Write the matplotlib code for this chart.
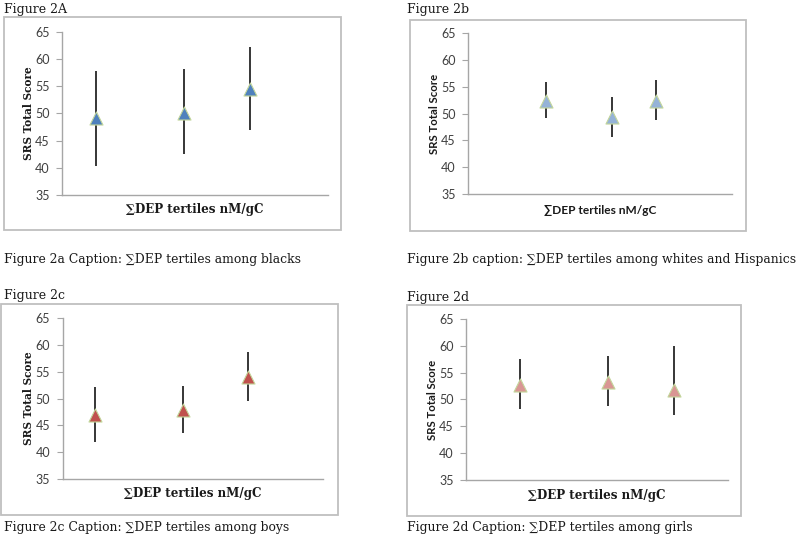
import matplotlib
matplotlib.use("Agg")
import matplotlib.pyplot as plt
from matplotlib.patches import Rectangle

# ---- data ----
panel_titles = ["Figure 2A", "Figure 2b", "Figure 2c", "Figure 2d"]
captions = [
    "Figure 2a Caption: \u2211DEP tertiles among blacks",
    "Figure 2b caption: \u2211DEP tertiles among whites and Hispanics",
    "Figure 2c Caption: \u2211DEP tertiles among boys",
    "Figure 2d Caption: \u2211DEP tertiles among girls",
]
x_label = "\u2211DEP tertiles nM/gC"
y_label = "SRS Total Score"
y_ticks = [35, 40, 45, 50, 55, 60, 65]

# x positions of the three tertiles (scatter x values, axis range 0-10)
x_a = [1.26, 4.57, 7.05]
x_b = [2.94, 5.44, 7.11]
x_c = [1.24, 4.61, 7.13]
x_d = [2.07, 5.42, 7.93]

mean_a = [49.1, 50.0, 54.5]
low_a = [40.3, 42.5, 46.9]
high_a = [57.8, 58.1, 62.2]

mean_b = [52.4, 49.3, 52.4]
low_b = [49.1, 45.6, 48.9]
high_b = [56.0, 53.2, 56.3]

mean_c = [47.0, 47.8, 54.1]
low_c = [42.0, 43.5, 49.6]
high_c = [52.1, 52.4, 58.8]

mean_d = [52.7, 53.3, 51.8]
low_d = [48.2, 48.8, 47.2]
high_d = [57.5, 58.1, 60.0]

W, H = 800, 539
fig = plt.figure(figsize=(W / 100, H / 100), dpi=100)
fig.patch.set_facecolor("white")


def fx(px):
    return px / W


def fy(py):
    return 1 - py / H


serif = ["DejaVu Serif", "DejaVu Sans"]
sans = ["Lato", "DejaVu Sans"]

panels = [
    dict(x=x_a, m=mean_a, lo=low_a, hi=high_a, color="#4F81BD",
         ax=(62.3, 31.7, 328, 195), box=(4, 17.5, 341, 230),
         title_xy=(4, 9), cap_xy=(4, 260), yl_x=29, xl_y=210,
         yfont=serif, xfont=serif),
    dict(x=x_b, m=mean_b, lo=low_b, hi=high_b, color="#95B3D7",
         ax=(468, 33.3, 732, 194), box=(410, 19.5, 746, 231),
         title_xy=(407, 10), cap_xy=(407, 260), yl_x=435, xl_y=210,
         yfont=sans, xfont=sans),
    dict(x=x_c, m=mean_c, lo=low_c, hi=high_c, color="#C0504D",
         ax=(62.7, 318.3, 323, 479), box=(1, 303.5, 338, 515),
         title_xy=(4, 296), cap_xy=(4, 527), yl_x=28, xl_y=493,
         yfont=serif, xfont=serif),
    dict(x=x_d, m=mean_d, lo=low_d, hi=high_d, color="#D99694",
         ax=(466, 319, 727.7, 480), box=(407, 305, 741, 516),
         title_xy=(407, 297), cap_xy=(407, 528), yl_x=432, xl_y=495,
         yfont=sans, xfont=serif),
]

for i, p in enumerate(panels):
    # outer frame
    bx0, by0, bx1, by1 = p["box"]
    fig.patches.append(Rectangle((fx(bx0), fy(by1)), fx(bx1) - fx(bx0), fy(by0) - fy(by1),
                                 transform=fig.transFigure, fill=False,
                                 edgecolor="#BFBFBF", linewidth=1.3))
    l, t, r, b = p["ax"]
    ax = fig.add_axes([fx(l), fy(b), fx(r) - fx(l), fy(t) - fy(b)])
    ax.set_facecolor("none")
    ax.set_xlim(0, 10)
    ax.set_ylim(35, 65)
    ax.set_yticks(y_ticks)
    ax.set_xticks([])
    for s in ["top", "right"]:
        ax.spines[s].set_visible(False)
    for s in ["left", "bottom"]:
        ax.spines[s].set_color("#A6A6A6")
        ax.spines[s].set_linewidth(1.0)
    ax.tick_params(axis="y", length=4, width=0.8, color="#A6A6A6",
                   labelsize=9, labelcolor="#404040", pad=5)
    for lab in ax.get_yticklabels():
        lab.set_family(sans)
    yerr = [[m - lo for m, lo in zip(p["m"], p["lo"])],
            [hi - m for m, hi in zip(p["m"], p["hi"])]]
    ax.errorbar(p["x"], p["m"], yerr=yerr, fmt="none", ecolor="#262626",
                elinewidth=1.3, capsize=0, zorder=2)
    ax.scatter(p["x"], p["m"], marker="^", s=88, color=p["color"],
               edgecolors="#C3D69B", linewidths=0.8, zorder=3)

    # labels
    fig.text(fx(p["yl_x"]), (fy(t) + fy(b)) / 2, y_label, rotation=90,
             ha="center", va="center",
             fontsize=7.6 if p["yfont"] is serif else 8.2, fontweight="bold",
             family=p["yfont"], color="#1a1a1a")
    fig.text((fx(l) + fx(r)) / 2, fy(p["xl_y"]), x_label, ha="center", va="center",
             fontsize=8.6, fontweight="bold", family=p["xfont"], color="#1a1a1a")
    fig.text(fx(p["title_xy"][0]), fy(p["title_xy"][1]), panel_titles[i],
             ha="left", va="center", fontsize=9.0, family=serif, color="#1a1a1a")
    fig.text(fx(p["cap_xy"][0]), fy(p["cap_xy"][1]), captions[i],
             ha="left", va="center", fontsize=8.9, family=serif, color="#1a1a1a")

fig.savefig("out.png", dpi=100, facecolor="white")
